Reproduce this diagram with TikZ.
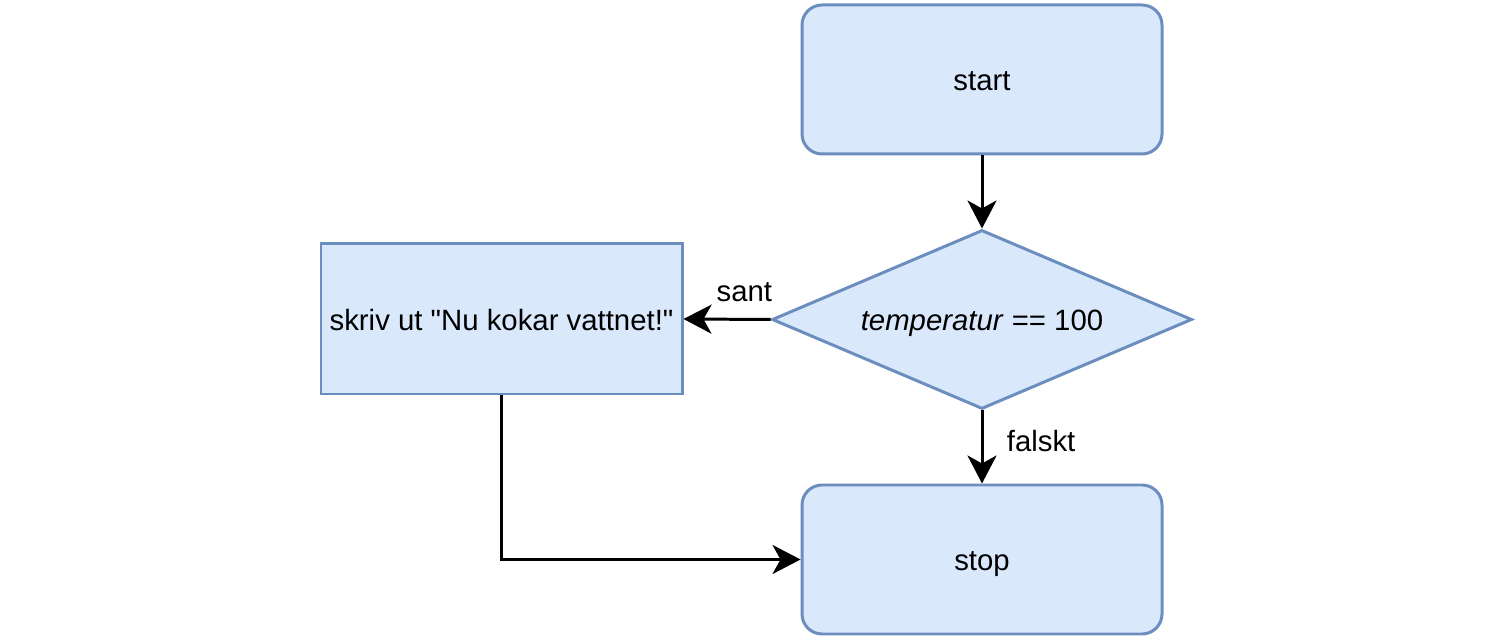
\documentclass[tikz,border=0pt]{standalone}
\usepackage{fontspec}
\setmainfont{Liberation Sans}
\usetikzlibrary{shapes.geometric,arrows.meta}
\definecolor{boxFill}{HTML}{DAE8FC}
\definecolor{boxLine}{HTML}{6C8EBF}

\begin{document}
\begin{tikzpicture}
[lineDecorate/.style={-{Stealth[length=0.56cm,width=0.58cm,inset=0.16cm]},line width=1.7pt},
 nodeDecorate/.style={draw=boxLine,fill=boxFill,line width=1.7pt,inner sep=0pt,text height=12.8pt,text depth=0pt,font=\fontsize{16.7}{20}\selectfont},
 termDecorate/.style={nodeDecorate,rectangle,rounded corners=0.4cm,minimum width=7.2cm,minimum height=2.98cm},
 labelDecorate/.style={font=\fontsize{16.7}{20}\selectfont}]

 \useasboundingbox (0,0) rectangle (30,12.88);

 \node (Start) at (19.64,11.29) [termDecorate] {start};
 \node (Test) at (19.64,6.49) [nodeDecorate,diamond,aspect=2.35,minimum width=8.4cm,minimum height=3.58cm] {\textit{temperatur} == 100};
 \node (Print) at (10.03,6.5) [nodeDecorate,rectangle,minimum width=7.22cm,minimum height=3.0cm] {skriv ut \textquotedbl Nu kokar vattnet!\textquotedbl};
 \node (Stop) at (19.64,1.69) [termDecorate] {stop};

\path
 (Start) edge[lineDecorate] node {} (Test)
 (Test.west) edge[lineDecorate] node[labelDecorate,above,pos=0.3,yshift=0.2cm] {sant} (Print.east)
 (Test.south) edge[lineDecorate] node[labelDecorate,right,pos=0.42,xshift=0.35cm] {falskt} (Stop.north);
 \draw[lineDecorate] (Print.south) |- (Stop.west);
\end{tikzpicture}
\end{document}
